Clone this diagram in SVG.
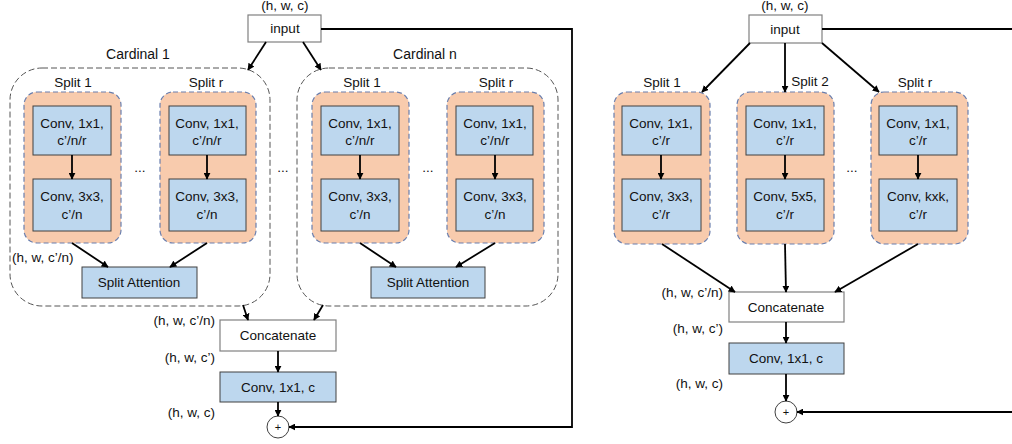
<svg xmlns="http://www.w3.org/2000/svg" width="1012" height="444" viewBox="0 0 1012 444">
<defs>
<marker id="ah" viewBox="0 0 10 10" refX="9" refY="5" markerWidth="7" markerHeight="7" markerUnits="userSpaceOnUse" orient="auto">
<path d="M0,0 L10,5 L0,10 z" fill="#000"/>
</marker>
</defs>
<style>
text{font-family:"Liberation Sans",Arial,sans-serif;font-size:13.5px;fill:#111;}
.c{text-anchor:middle;}
.r{text-anchor:end;}
.card{fill:none;stroke:#555;stroke-width:1;stroke-dasharray:6,3;}
.split{fill:#F8CBAD;stroke:#6A7FAE;stroke-width:1.2;stroke-dasharray:5,3;}
.conv{fill:#BDD7EE;stroke:#404040;stroke-width:1;}
.wbox{fill:#fff;stroke:#808080;stroke-width:1.2;}
.ln{fill:none;stroke:#000;stroke-width:1.8;}
.ar{fill:none;stroke:#000;stroke-width:1.8;marker-end:url(#ah);}
.circ{fill:#fff;stroke:#404040;stroke-width:1;}
</style>

<!-- ================= LEFT DIAGRAM ================= -->
<g id="L-input">
<text class="c" x="285" y="10">(h, w, c)</text>
<rect class="wbox" x="248" y="15" width="73" height="27"/>
<text class="c" x="285" y="33">input</text>
</g>

<g id="L-cardinal1">
<text class="c" x="138" y="59" style="font-size:14px">Cardinal 1</text>
<rect class="card" x="10" y="68" width="260" height="238" rx="32" ry="32"/>
</g>
<g id="L-cardinaln">
<text class="c" x="425" y="59" style="font-size:14px">Cardinal n</text>
<rect class="card" x="297" y="68" width="261" height="238" rx="32" ry="32"/>
</g>

<g id="L-c1-split1">
<text class="c" x="73" y="87">Split 1</text>
<rect class="split" x="24" y="92" width="97" height="151" rx="13" ry="13"/>
<rect class="conv" x="33" y="106" width="78" height="49"/>
<text class="c" x="72" y="128">Conv, 1x1,</text>
<text class="c" x="72" y="145">c’/n/r</text>
<rect class="conv" x="33" y="179" width="78" height="52"/>
<text class="c" x="72" y="201">Conv, 3x3,</text>
<text class="c" x="72" y="219">c’/n</text>
</g>
<g id="L-c1-splitr">
<text class="c" x="206" y="87">Split r</text>
<rect class="split" x="160" y="92" width="96" height="151" rx="13" ry="13"/>
<rect class="conv" x="169" y="106" width="77" height="49"/>
<text class="c" x="207" y="128">Conv, 1x1,</text>
<text class="c" x="207" y="145">c’/n/r</text>
<rect class="conv" x="169" y="179" width="77" height="52"/>
<text class="c" x="207" y="201">Conv, 3x3,</text>
<text class="c" x="207" y="219">c’/n</text>
</g>
<g id="L-c1-sa">
<rect class="conv" x="82" y="267" width="115" height="31"/>
<text class="c" x="139" y="287">Split Attention</text>
</g>

<g id="L-cn-split1">
<text class="c" x="362" y="87">Split 1</text>
<rect class="split" x="312" y="92" width="97" height="151" rx="13" ry="13"/>
<rect class="conv" x="321" y="106" width="78" height="49"/>
<text class="c" x="360" y="128">Conv, 1x1,</text>
<text class="c" x="360" y="145">c’/n/r</text>
<rect class="conv" x="321" y="179" width="78" height="52"/>
<text class="c" x="360" y="201">Conv, 3x3,</text>
<text class="c" x="360" y="219">c’/n</text>
</g>
<g id="L-cn-splitr">
<text class="c" x="496" y="87">Split r</text>
<rect class="split" x="447" y="92" width="97" height="151" rx="13" ry="13"/>
<rect class="conv" x="456" y="106" width="77" height="49"/>
<text class="c" x="495" y="128">Conv, 1x1,</text>
<text class="c" x="495" y="145">c’/n/r</text>
<rect class="conv" x="456" y="179" width="77" height="52"/>
<text class="c" x="495" y="201">Conv, 3x3,</text>
<text class="c" x="495" y="219">c’/n</text>
</g>
<g id="L-cn-sa">
<rect class="conv" x="371" y="267" width="114" height="31"/>
<text class="c" x="428" y="287">Split Attention</text>
</g>

<g id="L-dots">
<text class="c" x="140" y="172">...</text>
<text class="c" x="283" y="172">...</text>
<text class="c" x="428" y="172">...</text>
</g>

<g id="L-labels">
<text x="12" y="262">(h, w, c’/n)</text>
<text class="r" x="215" y="325">(h, w, c’/n)</text>
<text class="r" x="215" y="362">(h, w, c’)</text>
<text class="r" x="215" y="417">(h, w, c)</text>
</g>

<g id="L-concat">
<rect class="wbox" x="220" y="320" width="116" height="31"/>
<text class="c" x="278" y="340">Concatenate</text>
</g>
<g id="L-conv-out">
<rect class="conv" x="220" y="372" width="116" height="30"/>
<text class="c" x="278" y="392">Conv, 1x1, c</text>
</g>
<g id="L-add">
<circle class="circ" cx="278" cy="427" r="11"/>
<text class="c" x="278" y="431" style="font-size:11px">+</text>
</g>

<!-- ================= RIGHT DIAGRAM ================= -->
<g id="R-input">
<text class="c" x="785" y="10">(h, w, c)</text>
<rect class="wbox" x="749" y="15" width="73" height="28"/>
<text class="c" x="785" y="34">input</text>
</g>

<g id="R-split1">
<text class="c" x="662" y="87">Split 1</text>
<rect class="split" x="614" y="92" width="96" height="152" rx="13" ry="13"/>
<rect class="conv" x="622" y="106" width="79" height="49"/>
<text class="c" x="661" y="128">Conv, 1x1,</text>
<text class="c" x="661" y="145">c’/r</text>
<rect class="conv" x="622" y="179" width="79" height="52"/>
<text class="c" x="661" y="201">Conv, 3x3,</text>
<text class="c" x="661" y="219">c’/r</text>
</g>
<g id="R-split2">
<text class="c" x="810" y="86">Split 2</text>
<rect class="split" x="737" y="92" width="97" height="152" rx="13" ry="13"/>
<rect class="conv" x="746" y="106" width="78" height="49"/>
<text class="c" x="785" y="128">Conv, 1x1,</text>
<text class="c" x="785" y="145">c’/r</text>
<rect class="conv" x="746" y="179" width="78" height="52"/>
<text class="c" x="785" y="201">Conv, 5x5,</text>
<text class="c" x="785" y="219">c’/r</text>
</g>
<g id="R-splitr">
<text class="c" x="915" y="87">Split r</text>
<rect class="split" x="871" y="92" width="97" height="152" rx="13" ry="13"/>
<rect class="conv" x="879" y="106" width="78" height="49"/>
<text class="c" x="918" y="128">Conv, 1x1,</text>
<text class="c" x="918" y="145">c’/r</text>
<rect class="conv" x="879" y="179" width="78" height="52"/>
<text class="c" x="918" y="201">Conv, kxk,</text>
<text class="c" x="918" y="219">c’/r</text>
</g>
<g id="R-dots">
<text class="c" x="852" y="172">...</text>
</g>
<g id="R-labels">
<text class="r" x="723" y="297">(h, w, c’/n)</text>
<text class="r" x="723" y="333">(h, w, c’)</text>
<text class="r" x="723" y="388">(h, w, c)</text>
</g>
<g id="R-concat">
<rect class="wbox" x="729" y="292" width="115" height="30"/>
<text class="c" x="786" y="312">Concatenate</text>
</g>
<g id="R-conv-out">
<rect class="conv" x="729" y="343" width="115" height="31"/>
<text class="c" x="786" y="363">Conv, 1x1, c</text>
</g>
<g id="R-add">
<circle class="circ" cx="786" cy="412" r="11"/>
<text class="c" x="786" y="416" style="font-size:11px">+</text>
</g>

<!-- ================= CONNECTORS ================= -->
<g id="connectors">
<!-- left -->
<line class="ar" x1="266" y1="42" x2="248" y2="70"/>
<line class="ar" x1="303" y1="42" x2="321" y2="70"/>
<line class="ar" x1="72" y1="155" x2="72" y2="179"/>
<line class="ar" x1="207" y1="155" x2="207" y2="179"/>
<line class="ar" x1="360" y1="155" x2="360" y2="179"/>
<line class="ar" x1="495" y1="155" x2="495" y2="179"/>
<line class="ar" x1="72" y1="243" x2="108" y2="267"/>
<line class="ar" x1="207" y1="243" x2="170" y2="267"/>
<line class="ar" x1="360" y1="243" x2="396" y2="267"/>
<line class="ar" x1="495" y1="243" x2="456" y2="267"/>
<line class="ar" x1="243" y1="305" x2="248" y2="320"/>
<line class="ar" x1="323" y1="305" x2="314" y2="320"/>
<line class="ar" x1="278" y1="351" x2="278" y2="372"/>
<line class="ar" x1="278" y1="402" x2="278" y2="416"/>
<polyline class="ar" points="321,29 572,29 572,427 289,427"/>
<!-- right -->
<line class="ar" x1="750" y1="43" x2="702" y2="92"/>
<line class="ar" x1="785" y1="43" x2="785" y2="92"/>
<line class="ar" x1="822" y1="43" x2="879" y2="92"/>
<line class="ar" x1="661" y1="155" x2="661" y2="179"/>
<line class="ar" x1="785" y1="155" x2="785" y2="179"/>
<line class="ar" x1="918" y1="155" x2="918" y2="179"/>
<line class="ar" x1="662" y1="244" x2="735" y2="292"/>
<line class="ar" x1="785" y1="244" x2="786" y2="292"/>
<line class="ar" x1="918" y1="244" x2="835" y2="292"/>
<line class="ar" x1="786" y1="322" x2="786" y2="343"/>
<line class="ar" x1="786" y1="374" x2="786" y2="401"/>
<line class="ln" x1="822" y1="29" x2="1012" y2="29"/>
<line class="ar" x1="1012" y1="412" x2="797" y2="412"/>
</g>
</svg>
